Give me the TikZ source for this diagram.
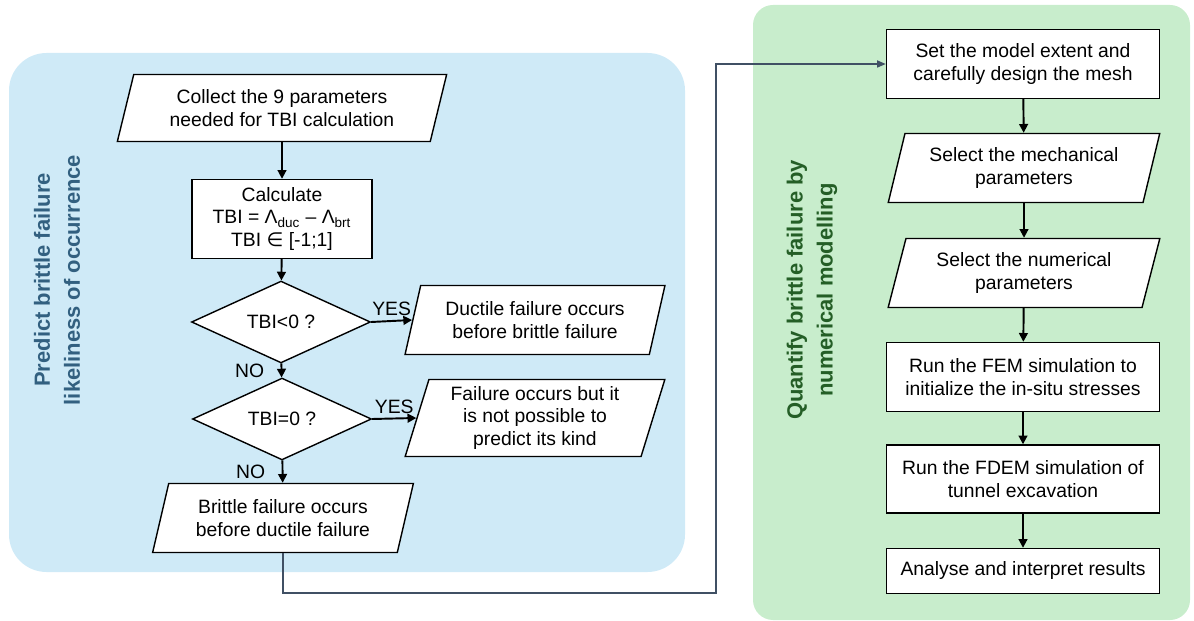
\documentclass[tikz,border=0pt]{standalone}
\usepackage{fontspec}
\setmainfont{Liberation Sans}
\newfontfamily\symfont{DejaVu Sans}
\usetikzlibrary{shapes.geometric, arrows.meta}
\definecolor{leftpanel}{RGB}{207,234,247}
\definecolor{rightpanel}{RGB}{200,237,204}
\definecolor{lefttitle}{RGB}{50,96,128}
\definecolor{righttitle}{RGB}{36,94,38}
\definecolor{linkgray}{RGB}{64,80,100}

\begin{document}
\begin{tikzpicture}[x=0.02cm, y=-0.02cm,
        every node/.style={font=\fontsize{11}{13}\selectfont, align=center},
        procbox/.style={draw, thick, fill=white, minimum width=5.46cm, minimum height=1.38cm},
        databox/.style={trapezium, trapezium left angle=75, trapezium right angle=105,
            trapezium stretches=true, draw, thick, fill=white},
        decision/.style={diamond, draw, thick, fill=white, inner sep=0pt,
            minimum width=3.58cm, minimum height=1.22cm},
        flow/.style={-{Triangle[length=5pt, width=5pt]}, line width=1.1pt},
        link/.style={-{Triangle[length=5pt, width=4pt]}, line width=0.9pt, draw=linkgray},
        paneltitle/.style={rotate=90, font=\fontsize{12.5}{17}\selectfont\bfseries}]
    \useasboundingbox (0,0) rectangle (1194,621);
    \fill [leftpanel, rounded corners=0.75cm] (9,53) rectangle (685,572);
    \fill [rightpanel, rounded corners=0.4cm] (753,5) rectangle (1190,620);
    \node [paneltitle, text=lefttitle] (lefthead) at (57,280) {Predict brittle failure\\likeliness of occurrence};
    \node [paneltitle, text=righttitle] (righthead) at (812,290) {Quantify brittle failure by\\numerical modelling};

    % left: predict
    \node [databox, minimum width=6.6cm, minimum height=1.34cm] (collect) at (282,108) {Collect the 9 parameters\\needed for TBI calculation};
    \node [procbox, minimum width=3.6cm, minimum height=1.58cm] (calc) at (282,219) {Calculate\\TBI = Λ\textsubscript{duc} – Λ\textsubscript{brt}\\TBI {\symfont ∈} [-1;1]};
    \node [decision] (less) at (281,322) {TBI<0 ?};
    \node [databox, minimum width=5.2cm, minimum height=1.38cm] (ductile) at (535,320) {Ductile failure occurs\\before brittle failure};
    \node [decision] (zero) at (282,419) {TBI=0 ?};
    \node [databox, minimum width=5.2cm, minimum height=1.54cm] (unknown) at (535,418) {Failure occurs but it\\is not possible to\\predict its kind};
    \node [databox, minimum width=5.22cm, minimum height=1.38cm] (brittle) at (283,518) {Brittle failure occurs\\before ductile failure};

    \draw [flow] (collect) -- (calc);
    \draw [flow] (calc) -- (less);
    \draw [flow] (less) -- node [midway, left=6pt] {NO} (zero);
    \draw [flow] (less.east) -- node [midway, above=-1pt] {YES} (ductile.west);
    \draw [flow] (zero) -- node [midway, left=6pt] {NO} (brittle);
    \draw [flow] (zero.east) -- node [midway, above=-1pt] {YES} (unknown.west);

    % right: quantify
    \node [procbox] (mesh) at (1023,64) {Set the model extent and\\carefully design the mesh};
    \node [databox, minimum width=5.44cm, minimum height=1.38cm] (mech) at (1024,168) {Select the mechanical\\parameters};
    \node [databox, minimum width=5.44cm, minimum height=1.38cm] (numer) at (1024,273) {Select the numerical\\parameters};
    \node [procbox] (fem) at (1023,377) {Run the FEM simulation to\\initialize the in-situ stresses};
    \node [procbox, minimum height=1.36cm] (fdem) at (1023,479) {Run the FDEM simulation of\\tunnel excavation};
    \node [procbox, minimum height=0.9cm] (results) at (1023,571) {Analyse and interpret results};

    \draw [flow] (mesh) -- (mech);
    \draw [flow] (mech) -- (numer);
    \draw [flow] (numer) -- (fem);
    \draw [flow] (fem) -- (fdem);
    \draw [flow] (fdem) -- (results);

    % from one panel to the other
    \coordinate (bend) at (716,593);
    \draw [link] (brittle.south) |- (bend) |- (mesh.west);
\end{tikzpicture}
\end{document}
